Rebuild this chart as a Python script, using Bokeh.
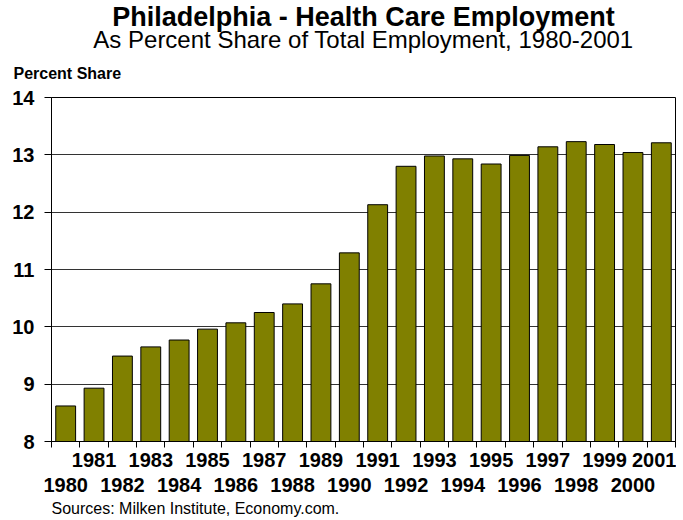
from bokeh.plotting import figure
from bokeh.models import Range1d, FixedTicker, LinearAxis, Title
from bokeh.embed import file_html
from bokeh.resources import INLINE

# ---- data ----
years = list(range(1980, 2002))
share = [8.62, 8.93, 9.49, 9.65, 9.77, 9.96, 10.07, 10.25, 10.40, 10.75, 11.29,
         12.13, 12.80, 12.98, 12.93, 12.84, 12.99, 13.14, 13.23, 13.18, 13.04, 13.21]
y_ticks = [8, 9, 10, 11, 12, 13, 14]
odd_years = [y for y in years if y % 2 == 1]
even_years = [y for y in years if y % 2 == 0]
boundaries = [y - 0.5 for y in years] + [years[-1] + 0.5]
title_text = "Philadelphia - Health Care Employment"
subtitle_text = "As Percent Share of Total Employment, 1980-2001"
ylabel_text = "Percent Share"
source_text = "Sources: Milken Institute, Economy.com."

FONT = "Liberation Sans"
BAR = "#808000"

p = figure(width=676, height=520,
           x_range=Range1d(years[0] - 0.5, years[-1] + 0.5),
           y_range=Range1d(y_ticks[0], y_ticks[-1]),
           output_backend="svg", toolbar_location=None,
           min_border_left=51, min_border_right=1,
           min_border_top=97, min_border_bottom=78,
           background_fill_color="white", border_fill_color="white")

p.outline_line_color = "black"
p.outline_line_width = 1

p.vbar(x=years, top=share, bottom=y_ticks[0], width=0.7,
       fill_color=BAR, line_color="black", line_width=1)

# grid
p.xgrid.visible = False
p.ygrid.ticker = FixedTicker(ticks=y_ticks)
p.ygrid.grid_line_color = "black"
p.ygrid.grid_line_alpha = 0.8

# y axis
ya = p.yaxis[0]
ya.ticker = FixedTicker(ticks=y_ticks)
ya.major_label_text_font = FONT
ya.major_label_text_font_style = "bold"
ya.major_label_text_font_size = "20px"
ya.major_label_text_color = "black"
ya.major_tick_out = 7
ya.major_tick_in = 0
ya.minor_tick_line_color = None
ya.axis_line_color = "black"
ya.major_tick_line_color = "black"
ya.major_label_standoff = 10

# x axis: odd-year labels, tick marks at category boundaries (minor ticks)
xa = p.xaxis[0]
xa.ticker = FixedTicker(ticks=odd_years, minor_ticks=boundaries)
xa.major_tick_line_color = None
xa.major_tick_out = 0
xa.major_tick_in = 0
xa.minor_tick_out = 6
xa.minor_tick_in = 0
xa.minor_tick_line_color = "black"
xa.axis_line_color = "black"
xa.major_label_standoff = 5
xa.major_label_text_font = FONT
xa.major_label_text_font_style = "bold"
xa.major_label_text_font_size = "20px"
xa.major_label_text_color = "black"

xb = LinearAxis(ticker=FixedTicker(ticks=even_years))
xb.axis_line_color = None
xb.major_tick_line_color = None
xb.minor_tick_line_color = None
xb.major_tick_out = 0
xb.major_tick_in = 0
xb.major_label_standoff = 8
xb.major_label_text_font = FONT
xb.major_label_text_font_style = "bold"
xb.major_label_text_font_size = "20px"
xb.major_label_text_color = "black"
p.add_layout(xb, "below")

p.add_layout(Title(text=source_text, align="left", text_font=FONT,
                   text_font_style="normal", text_font_size="16px",
                   text_color="black", standoff=7), "below")

# titles above (first added is closest to frame)
p.add_layout(Title(text=ylabel_text, align="left", offset=-38, text_font=FONT,
                   text_font_style="bold", text_font_size="16px",
                   text_color="black", standoff=31), "above")
p.add_layout(Title(text=subtitle_text, align="center", text_font=FONT,
                   text_font_style="normal", text_font_size="24px",
                   text_color="black", standoff=-10), "above")
p.add_layout(Title(text=title_text, align="center", text_font=FONT,
                   text_font_style="bold", text_font_size="27px",
                   text_color="black", standoff=-6), "above")

open("out.html", "w").write(file_html(p, INLINE))
